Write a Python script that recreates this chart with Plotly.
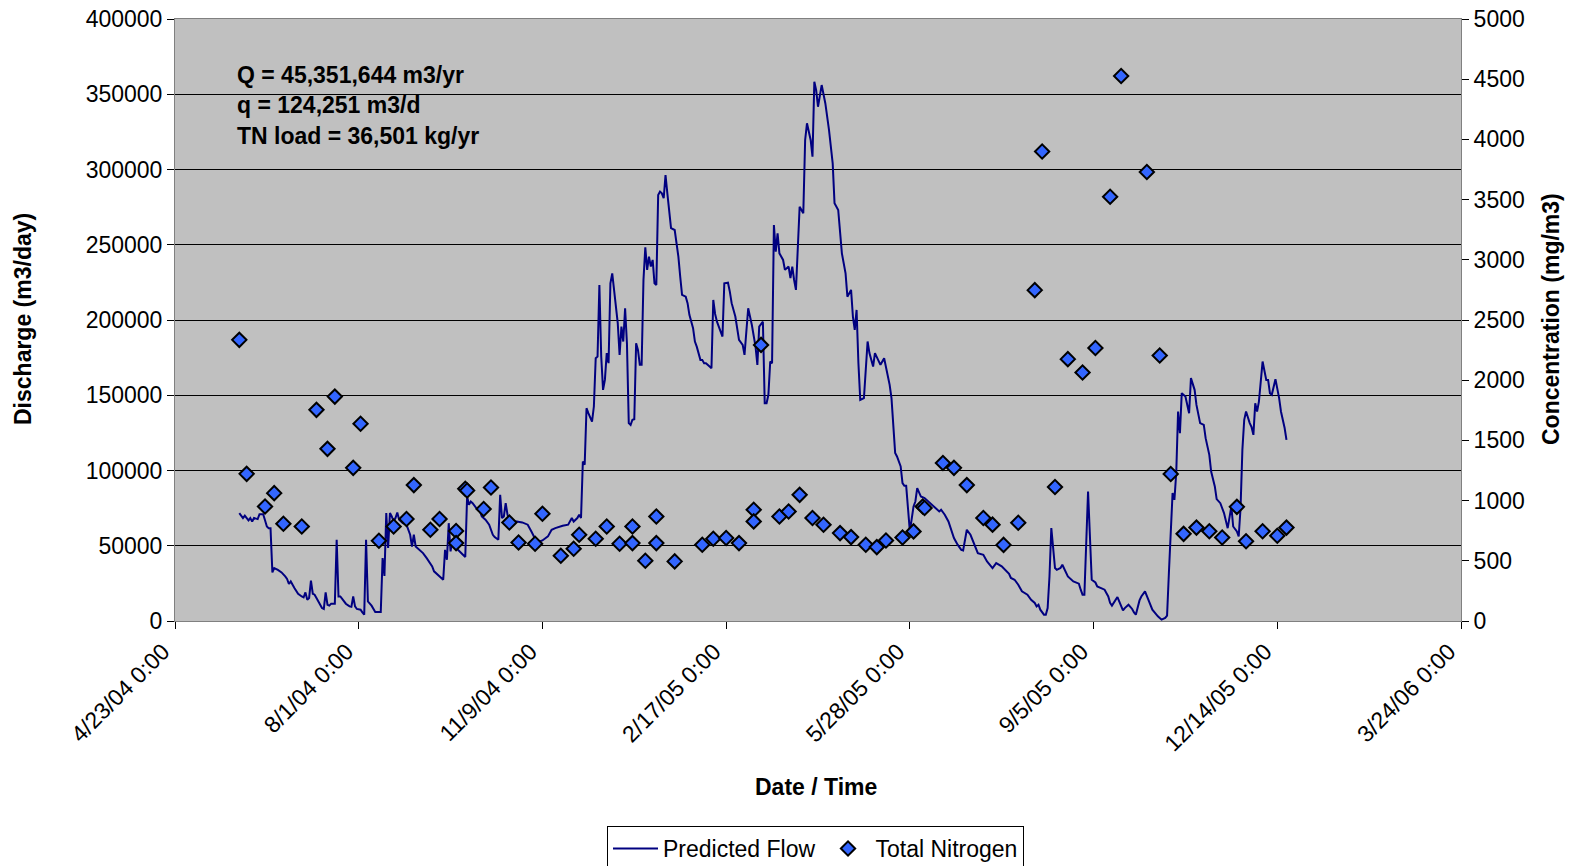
import pandas as pd
import plotly.graph_objects as go

# Dates are Excel serial day numbers (38100 = 4/23/04)
flow_serial = [
    38135, 38137, 38138, 38140, 38141, 38142, 38143, 38145, 38146, 38148, 38149, 38150, 38151, 38152,
    38153, 38154, 38156, 38158, 38160, 38161, 38162, 38163, 38165, 38167, 38169, 38170, 38171, 38172,
    38173, 38174, 38175, 38176, 38177, 38179, 38180, 38181, 38182, 38183, 38184, 38185, 38187, 38188,
    38189, 38190, 38191, 38193, 38195, 38196, 38197, 38198, 38199, 38201, 38202, 38203, 38204, 38205,
    38207, 38208, 38209, 38212, 38213, 38214, 38215, 38216, 38217, 38218, 38219, 38220, 38221, 38222,
    38224, 38226, 38228, 38229, 38230, 38231, 38233, 38235, 38237, 38238, 38240, 38241, 38243, 38245,
    38246, 38247, 38248, 38249, 38250, 38251, 38252, 38254, 38256, 38258, 38259, 38260, 38261, 38262,
    38264, 38266, 38267, 38269, 38271, 38273, 38274, 38276, 38277, 38278, 38279, 38280, 38281, 38282,
    38284, 38286, 38289, 38292, 38294, 38296, 38297, 38300, 38303, 38305, 38307, 38311, 38314, 38316,
    38317, 38319, 38320, 38321, 38322, 38323, 38324, 38325, 38327, 38328, 38329, 38330, 38331, 38332,
    38333, 38334, 38335, 38336, 38337, 38338, 38340, 38341, 38342, 38343, 38344, 38345, 38346, 38347,
    38348, 38349, 38350, 38351, 38352, 38353, 38354, 38355, 38356, 38357, 38358, 38359, 38360, 38361,
    38362, 38363, 38364, 38365, 38366, 38367, 38368, 38369, 38370, 38372, 38373, 38374, 38375, 38376,
    38378, 38379, 38380, 38382, 38383, 38384, 38386, 38387, 38388, 38389, 38391, 38392, 38393, 38394,
    38395, 38396, 38398, 38399, 38401, 38402, 38403, 38405, 38407, 38409, 38410, 38412, 38414, 38416,
    38417, 38418, 38420, 38421, 38422, 38423, 38424, 38425, 38426, 38427, 38428, 38429, 38431, 38432,
    38434, 38435, 38436, 38437, 38438, 38440, 38442, 38443, 38443, 38444, 38446, 38447, 38448, 38449,
    38450, 38452, 38454, 38456, 38458, 38459, 38461, 38463, 38465, 38466, 38468, 38469, 38470, 38471,
    38472, 38473, 38475, 38477, 38478, 38480, 38481, 38484, 38486, 38488, 38489, 38490, 38492, 38493,
    38495, 38496, 38497, 38498, 38500, 38502, 38503, 38504, 38506, 38508, 38510, 38512, 38514, 38516,
    38517, 38519, 38521, 38523, 38524, 38526, 38528, 38529, 38531, 38533, 38536, 38537, 38540, 38541,
    38542, 38545, 38547, 38550, 38552, 38554, 38555, 38557, 38559, 38561, 38564, 38566, 38568, 38569,
    38570, 38571, 38573, 38574, 38575, 38576, 38577, 38579, 38580, 38582, 38583, 38586, 38589, 38592,
    38593, 38594, 38595, 38597, 38599, 38601, 38602, 38604, 38606, 38608, 38609, 38610, 38611, 38613,
    38616, 38617, 38619, 38621, 38622, 38623, 38625, 38626, 38628, 38630, 38632, 38635, 38637, 38639,
    38640, 38641, 38642, 38643, 38644, 38645, 38646, 38647, 38648, 38649, 38650, 38652, 38653, 38655,
    38656, 38658, 38660, 38661, 38663, 38664, 38666, 38667, 38669, 38671, 38672, 38673, 38675, 38676,
    38678, 38679, 38680, 38681, 38682, 38683, 38685, 38686, 38687, 38688, 38689, 38690, 38692, 38693,
    38694, 38695, 38696, 38697, 38699, 38701, 38702, 38704, 38705,
]
flow_m3d = [
    71700, 68400, 70000, 66800, 68400, 66000, 68400, 67700, 71000, 71000, 67000, 62800, 61700, 61700,
    32300, 35200, 34000, 32300, 29600, 27900, 24600, 26300, 21900, 18100, 16300, 15700, 19000, 14100,
    15300, 26800, 18100, 17500, 15300, 10800, 8600, 8000, 19000, 10800, 10200, 11500, 11500, 54000,
    16300, 16300, 14600, 11500, 9700, 9400, 16300, 9700, 8000, 7500, 5700, 4200, 54000, 13000,
    10200, 8000, 6000, 6000, 41800, 30000, 71700, 48500, 71700, 69500, 66100, 68400, 72100, 67300,
    65000, 64000, 57300, 49500, 57300, 49500, 47300, 45100, 41800, 40000, 36300, 33000, 30700, 28600,
    27400, 47300, 40700, 65000, 46200, 54000, 49500, 47300, 45100, 42500, 82700, 77200, 79400, 78300,
    75000, 72800, 69500, 67300, 64000, 57300, 55800, 54000, 83900, 68400, 69500, 78300, 70600, 67300,
    66100, 66100, 65500, 64000, 59500, 54000, 52200, 53500, 56200, 60600, 61700, 63300, 64000, 68400,
    66100, 68400, 70600, 68400, 106000, 103800, 141400, 138100, 132500, 142500, 174600, 175700, 223300, 175700,
    153600, 160200, 178000, 171300, 224400, 231000, 208900, 197900, 176800, 195600, 185700, 207800, 184600, 131500,
    130300, 133700, 134100, 184600, 180100, 170200, 170200, 226600, 248300, 233300, 242100, 235500, 239900, 224400,
    223300, 283100, 285300, 284200, 280900, 296300, 284200, 270900, 261000, 259800, 251000, 242100, 228800, 216700,
    215500, 211200, 203400, 194600, 185700, 182300, 173500, 173500, 171300, 171300, 169100, 168000, 213300, 204000,
    198900, 195600, 189000, 224400, 224800, 218900, 211200, 202300, 186800, 183500, 176800, 207800, 196700, 182300,
    170200, 195600, 198900, 144700, 144700, 150300, 172400, 171300, 263100, 245400, 257600, 244300, 239900, 233300,
    235500, 227800, 235500, 226600, 220000, 275300, 270900, 319600, 319600, 330700, 319600, 308500, 358300, 352800,
    341700, 356100, 343900, 326200, 304100, 277600, 273100, 244300, 231000, 215500, 220000, 202300, 193400, 206700,
    171300, 146900, 148100, 185700, 178000, 169100, 178000, 170200, 174600, 162400, 156900, 148100, 111600, 109300,
    102700, 91600, 89800, 89800, 59500, 76100, 79400, 88300, 82700, 81700, 79400, 77200, 75000, 72800,
    73900, 70600, 66100, 59500, 55100, 50700, 47300, 46900, 60600, 57300, 47300, 45100, 44000, 41800,
    39600, 35200, 38500, 36300, 34000, 31400, 28600, 27400, 24100, 19700, 17500, 14100, 12000, 9700,
    10800, 7500, 4200, 4200, 8600, 29600, 61800, 35200, 34000, 35200, 37400, 29600, 26300, 24800,
    20800, 17500, 17500, 86100, 27400, 25600, 23000, 21900, 20800, 16300, 12000, 10200, 12000, 15900,
    7000, 8600, 10800, 8000, 5700, 4200, 13700, 16300, 19700, 13000, 7500, 3100, 900, 2000,
    3500, 31900, 62800, 85000, 80500, 98300, 139200, 124800, 151400, 150300, 149100, 138100, 161400, 153600,
    143600, 131500, 130300, 121500, 110400, 99300, 89400, 81000, 78300, 71700, 66100, 61700, 76100, 62800,
    59500, 56200, 75000, 113700, 133700, 139200, 131500, 128800, 123700, 144700, 139200, 145800, 172400, 165700,
    160200, 160200, 151400, 150300, 160700, 148100, 139200, 128200, 120400, 118200, 115900,
]

tn_serial = [
    38135, 38139, 38149, 38154, 38159, 38169, 38177, 38183, 38187, 38197, 38201, 38211, 38219, 38226,
    38230, 38239, 38244, 38253, 38253, 38258, 38259, 38268, 38272, 38282, 38287, 38296, 38300, 38310,
    38317, 38320, 38329, 38335, 38342, 38349, 38349, 38356, 38362, 38362, 38372, 38387, 38393, 38400,
    38407, 38415, 38415, 38419, 38429, 38434, 38440, 38447, 38453, 38462, 38468, 38476, 38482, 38487,
    38496, 38502, 38507, 38508, 38518, 38524, 38531, 38540, 38545, 38551, 38559, 38568, 38572, 38579,
    38586, 38594, 38601, 38609, 38615, 38629, 38636, 38642, 38649, 38656, 38663, 38670, 38678, 38683,
    38692, 38700, 38705,
]
tn_mgm3 = [
    2335, 1222, 951, 1062, 808, 785, 1754, 1430, 1864, 1272, 1638, 666, 785, 847,
    1129, 758, 847, 747, 647, 1098, 1084, 930, 1109, 818, 652, 642, 891, 542,
    600, 716, 683, 785, 642, 785, 647, 500, 868, 647, 495, 633, 683, 689,
    647, 924, 827, 2293, 868, 910, 1048, 855, 799, 730, 697, 633, 614, 669,
    694, 744, 951, 938, 1312, 1272, 1129, 856, 800, 632, 816, 2748, 3899, 1113,
    2175, 2064, 2267, 3524, 4527, 3729, 2205, 1221, 724, 776, 745, 693, 948, 662,
    745, 708, 776,
]

x_tick_serial = [38100, 38200, 38300, 38400, 38500, 38600, 38700, 38800]
x_tick_labels = ["4/23/04 0:00", "8/1/04 0:00", "11/9/04 0:00", "2/17/05 0:00",
                 "5/28/05 0:00", "9/5/05 0:00", "12/14/05 0:00", "3/24/06 0:00"]

stats_lines = ["Q = 45,351,644 m3/yr", "q = 124,251 m3/d", "TN load = 36,501 kg/yr"]


def to_date(serial):
    return pd.to_datetime(pd.Series(serial), unit="D", origin="1899-12-30")


flow_dates = to_date(flow_serial)
tn_dates = to_date(tn_serial)
tick_dates = to_date(x_tick_serial)

FONT = "Arial, Liberation Sans, sans-serif"
FS = 23

# page has an 8px body margin: figure is sized/offset so the plot sits where the reference has it
W, H = 1566, 858
ML, MR, MT, MB = 167, 113, 11, 245
PW = W - ML - MR
PH = H - MT - MB


def px_x(page_x):
    return (page_x - 8 - ML) / PW


def px_y(page_y):
    return (H - MB - (page_y - 8)) / PH


fig = go.Figure()
fig.add_trace(go.Scatter(
    x=flow_dates, y=flow_m3d, mode="lines", name="Predicted Flow",
    line=dict(color="#000080", width=2),
))
fig.add_trace(go.Scatter(
    x=tn_dates, y=tn_mgm3, mode="markers", name="Total Nitrogen", yaxis="y2",
    marker=dict(symbol="diamond", size=11, color="#3366FF",
                line=dict(color="#000000", width=2)),
))

fig.update_layout(
    width=W, height=H,
    margin=dict(l=ML, r=MR, t=MT, b=MB, autoexpand=False),
    paper_bgcolor="white", plot_bgcolor="#C0C0C0",
    font=dict(family=FONT, size=FS, color="black"),
    showlegend=True,
    legend=dict(orientation="h", x=px_x(815.5), xanchor="center",
                yref="container", y=(H - (826 - 8)) / H, yanchor="top",
                bordercolor="black", borderwidth=1, bgcolor="white",
                font=dict(size=FS), itemwidth=45),
    xaxis=dict(
        type="date", range=[tick_dates.iloc[0], tick_dates.iloc[-1]],
        tickvals=list(tick_dates), ticktext=x_tick_labels, tickangle=-45,
        showgrid=False, zeroline=False, showline=True, linecolor="#808080",
        linewidth=1, mirror=True, ticks="outside", ticklen=7, tickcolor="black",
        tickfont=dict(size=FS), automargin=False, ticklabeloverflow="allow",
        ticklabelshift=-12,
    ),
    yaxis=dict(
        range=[0, 400000], dtick=50000, tickformat="d",
        showgrid=True, gridcolor="black", gridwidth=1, zeroline=False,
        showline=True, linecolor="#808080", linewidth=1, mirror=True,
        ticks="outside", ticklen=7, tickcolor="black", tickfont=dict(size=FS),
        automargin=False, ticklabeloverflow="allow",
    ),
    yaxis2=dict(
        range=[0, 5000], dtick=500, tickformat="d", overlaying="y", side="right",
        showgrid=False, zeroline=False, showline=True, linecolor="#808080",
        ticks="outside", ticklen=7, tickcolor="black", tickfont=dict(size=FS),
        automargin=False, ticklabeloverflow="allow",
    ),
)

ann = []
ys = [75, 105, 136]
for txt, yy in zip(stats_lines, ys):
    ann.append(dict(text="<b>%s</b>" % txt, x=px_x(235), y=px_y(yy), xref="paper", yref="paper",
                    xanchor="left", yanchor="middle", showarrow=False, font=dict(size=FS)))
ann.append(dict(text="<b>Discharge (m3/day)</b>", x=px_x(23), y=px_y(319), xref="paper", yref="paper",
                textangle=-90, showarrow=False, xanchor="center", yanchor="middle", font=dict(size=FS)))
ann.append(dict(text="<b>Concentration (mg/m3)</b>", x=px_x(1551), y=px_y(319), xref="paper", yref="paper",
                textangle=-90, showarrow=False, xanchor="center", yanchor="middle", font=dict(size=FS)))
ann.append(dict(text="<b>Date / Time</b>", x=px_x(816), y=px_y(787), xref="paper", yref="paper",
                showarrow=False, xanchor="center", yanchor="middle", font=dict(size=FS)))
fig.update_layout(annotations=ann)

fig.write_html("out.html")
